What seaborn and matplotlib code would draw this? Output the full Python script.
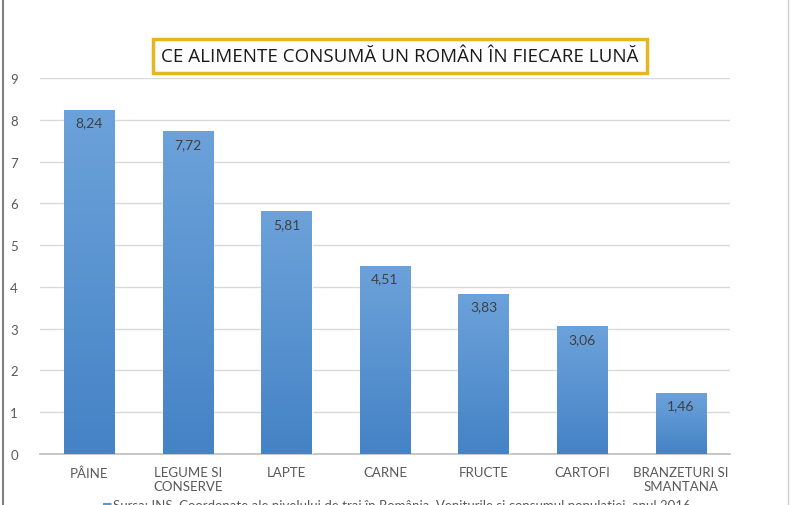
import matplotlib
matplotlib.use("Agg")
import matplotlib.pyplot as plt
import numpy as np
import pandas as pd
import seaborn as sns
from matplotlib.colors import LinearSegmentedColormap
from matplotlib.lines import Line2D

categories = ["PÂINE", "LEGUME SI\nCONSERVE", "LAPTE", "CARNE", "FRUCTE", "CARTOFI", "BRANZETURI SI\nSMANTANA"]
values = [8.24, 7.72, 5.81, 4.51, 3.83, 3.06, 1.46]
value_labels = ["8,24", "7,72", "5,81", "4,51", "3,83", "3,06", "1,46"]
title_text = "CE ALIMENTE CONSUMĂ UN ROMÂN ÎN FIECARE LUNĂ"
source_text = "Sursa: INS, Coordonate ale nivelului de trai în România. Veniturile si consumul populatiei, anul 2016"

sns.set_theme(style="white")
plt.rcParams["font.family"] = ["Lato", "DejaVu Sans"]

df = pd.DataFrame({"category": categories, "value": values})

fig = plt.figure(figsize=(8, 5.06), dpi=100)
ax = fig.add_axes([0.05, 0.1008, 0.8625, 0.7431])

sns.barplot(data=df, x="category", y="value", color="#5b96d3", width=0.51,
            saturation=1, ax=ax, zorder=3)

# vertical gradient inside each bar
grad = LinearSegmentedColormap.from_list("bar", ["#4583c6", "#6ca2da"])
for patch in ax.patches:
    x0, y0 = patch.get_x(), patch.get_y()
    w, h = patch.get_width(), patch.get_height()
    img = ax.imshow(np.linspace(0, 1, 100).reshape(-1, 1), cmap=grad, aspect="auto",
                    origin="lower", extent=[x0, x0 + w, y0, y0 + h], zorder=4)
    img.set_clip_path(patch)

for i, (v, lab) in enumerate(zip(values, value_labels)):
    ax.text(i, v - 0.3, lab, ha="center", va="center", fontsize=10,
            color="#404040", zorder=5)

ax.set_xlim(-0.5, len(categories) - 0.5)
ax.set_ylim(0, 9)
ax.set_yticks(range(0, 10))
ax.yaxis.grid(True, color="#d9d9d9", linewidth=1)
ax.set_axisbelow(True)
for side in ["top", "right", "left"]:
    ax.spines[side].set_visible(False)
ax.spines["bottom"].set_color("#bfbfbf")
ax.tick_params(axis="both", length=0, labelsize=9.5, labelcolor="#595959")
ax.tick_params(axis="x", pad=9)
ax.tick_params(axis="y", pad=16)
ax.set_xlabel("")
ax.set_ylabel("")

fig.text(0.5, 0.887, title_text, ha="center", va="center", fontsize=13.5,
         family=["Open Sans", "DejaVu Sans"], color="#1a1a1a",
         bbox=dict(boxstyle="square,pad=0.42", facecolor="white",
                   edgecolor="#e6b620", linewidth=2.5))

# source line, cut by the bottom edge like in the original
fig.text(0.127, 0.0, "■", ha="left", va="center", fontsize=8, color="#5b96d3")
fig.text(0.141, 0.0, source_text, ha="left", va="center", fontsize=9.5, color="#595959")

# frame lines at the sides
fig.add_artist(Line2D([0.004, 0.004], [0, 1], transform=fig.transFigure, color="#7f7f7f", linewidth=1.5))
fig.add_artist(Line2D([0.985, 0.985], [0, 1], transform=fig.transFigure, color="#d0d0d0", linewidth=1))

fig.savefig("out.png", dpi=100)
